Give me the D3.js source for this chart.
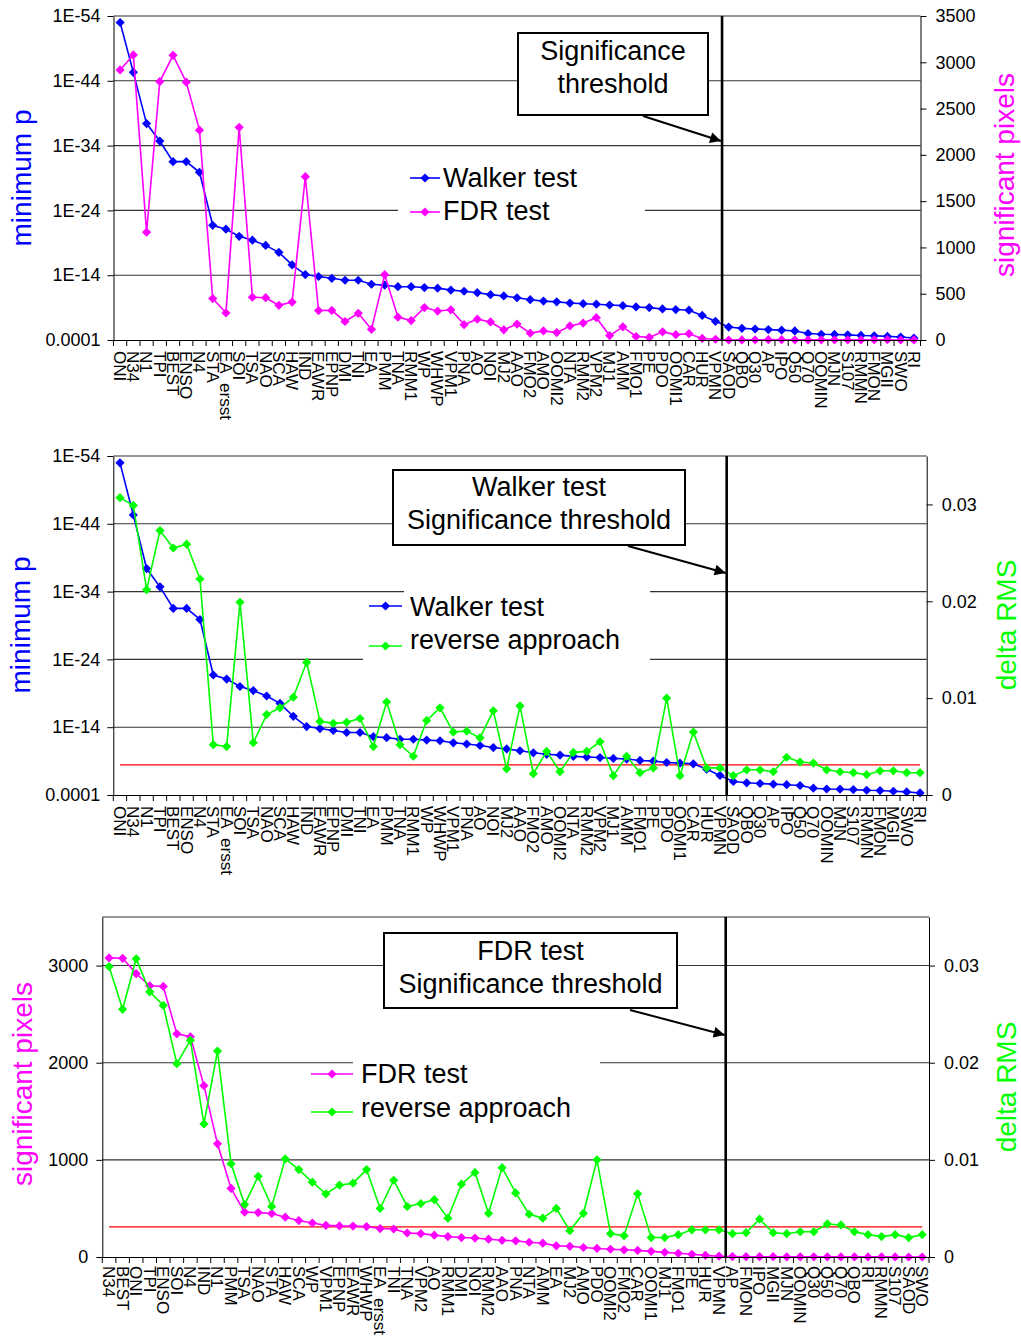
<!DOCTYPE html>
<html><head><meta charset="utf-8">
<script src="https://cdn.jsdelivr.net/npm/d3@7"></script>
<style>
body{margin:0;background:#fff}
svg{display:block}
text{font-family:"Liberation Sans",Arial,Helvetica,sans-serif}
</style>
</head><body>
<svg id="c" width="1021" height="1338"></svg>
<script>
// ---------------- DATA ----------------
const categories = ["ONI","N34","N1","TPI","BEST","ENSO","N4","STA","EA ersst","SOI","TSA","NAO","SCA","HAW","IND","EAWR","EPNP","DMI","TNI","EA","PMM","TNA","RMM1","WP","WHWP","VPM1","PNA","AO","NOI","MJ2","AAO","FMO2","AMO","OOMI2","NTA","RMM2","VPM2","MJ1","AMM","FMO1","PE","PDO","OOMI1","CAR","HUR","VPMN","SAOD","QBO","Q30","AP","IPO","Q50","Q70","OOMIN","MJN","S107","RMMN","FMON","MGII","SWO","RI"];

// Walker test: minimum p (aligned with categories)
const walkerMinP = [1e-53,5e-46,4e-38,2e-35,3e-32,3e-32,1.3e-30,2e-22,8e-22,1e-20,4e-20,2.5e-19,3e-18,2.5e-16,8e-15,1.6e-14,3e-14,6e-14,6e-14,2.5e-13,3.5e-13,6e-13,6e-13,8e-13,1e-12,2e-12,3e-12,5e-12,1e-11,1.6e-11,3e-11,6e-11,1e-10,1.3e-10,2e-10,2.5e-10,3e-10,4e-10,5e-10,8e-10,1e-9,1.6e-9,2e-9,2.5e-9,1.6e-8,1.3e-7,1e-6,1.6e-6,2e-6,2.5e-6,3e-6,4e-6,1e-5,1.3e-5,1.4e-5,1.6e-5,2e-5,2.2e-5,2.8e-5,3.5e-5,5e-5];

// FDR test: significant pixels (aligned with categories)
const fdrPixels = [2917,3079,1165,2792,3075,2785,2267,448,293,2297,462,457,375,410,1764,318,320,200,288,115,706,247,210,350,313,326,166,225,195,110,172,74,98,80,152,183,241,48,142,38,28,88,58,68,17,8,0,1,2,4,3,2,1,2,2,1,1,3,3,0,1];

// reverse approach: delta RMS (aligned with categories)
const deltaRMS = [0.0307,0.0299,0.0212,0.0273,0.0255,0.0259,0.0223,0.0052,0.0050,0.0199,0.0054,0.0083,0.0090,0.0101,0.0137,0.0076,0.0074,0.0075,0.0079,0.0050,0.0096,0.0052,0.0040,0.0077,0.0090,0.0065,0.0066,0.0059,0.0087,0.0027,0.0092,0.0022,0.0045,0.0024,0.0044,0.0045,0.0055,0.0020,0.0040,0.0023,0.0028,0.0100,0.0020,0.0065,0.0028,0.0028,0.0020,0.0026,0.0026,0.0024,0.0039,0.0034,0.0033,0.0026,0.0024,0.0023,0.0021,0.0025,0.0025,0.0023,0.0023];

// order of the third chart (sorted by FDR significant pixels)
const fdrRankOrder = ["N34","BEST","ONI","TPI","ENSO","SOI","N4","IND","N1","PMM","TSA","NAO","STA","HAW","SCA","WP","VPM1","EPNP","EAWR","WHWP","EA ersst","TNI","TNA","VPM2","AO","RMM1","DMI","NOI","RMM2","AAO","PNA","NTA","AMM","EA","MJ2","AMO","PDO","OOMI2","FMO2","CAR","OOMI1","MJ1","FMO1","PE","HUR","VPMN","AP","FMON","IPO","MGII","MJN","OOMIN","Q30","Q50","Q70","QBO","RI","RMMN","S107","SAOD","SWO"];

const pTicks = [1e-4,1e-14,1e-24,1e-34,1e-44,1e-54];
const pTickLabels = ["0.0001","1E-14","1E-24","1E-34","1E-44","1E-54"];
const pixelTicksTop = [0,500,1000,1500,2000,2500,3000,3500];
const pixelTicksBottom = [0,1000,2000,3000];
const rmsTicks = [0,0.01,0.02,0.03];
const rmsThreshold = 0.0031;
const thresholdAfter = "VPMN";

// ---------------- DRAW ----------------
const svg = d3.select("#c");
const walkerMap = new Map(categories.map((c,i)=>[c,walkerMinP[i]]));
const fdrMap = new Map(categories.map((c,i)=>[c,fdrPixels[i]]));
const rmsMap = new Map(categories.map((c,i)=>[c,deltaRMS[i]]));

const defs = svg.append("defs");
defs.append("marker").attr("id","ah").attr("viewBox","0 0 10 10")
  .attr("refX",10).attr("refY",5).attr("markerWidth",15).attr("markerHeight",11)
  .attr("markerUnits","userSpaceOnUse").attr("orient","auto")
  .append("path").attr("d","M0,0L10,5L0,10Z").attr("fill","#000");

const diamond = r => `M0,${-r}L${r},0L0,${r}L${-r},0Z`;
const BLUE="#0000ff", MAG="#ff00ff", GREEN="#00ff00";

function drawPanel(p){
  const g = svg.append("g");
  const x = d3.scaleBand().domain(p.cats).range([p.x0,p.x1]);
  const bw = x.bandwidth();
  const cx = c => x(c)+bw/2;

  g.selectAll(null).data(p.grid).join("line")
    .attr("x1",p.x0).attr("x2",p.x1)
    .attr("y1",d=>p.yL(d)).attr("y2",d=>p.yL(d))
    .attr("stroke","#333").attr("stroke-width",1.1);

  p.legendBg.forEach(r=>g.append("rect").attr("x",r[0]).attr("y",r[1]).attr("width",r[2]).attr("height",r[3]).attr("fill","#fff"));

  if(p.redLine!=null){
    g.append("line").attr("x1",cx(p.cats[0])).attr("x2",cx(p.cats[p.cats.length-1]))
      .attr("y1",p.yR(p.redLine)).attr("y2",p.yR(p.redLine))
      .attr("stroke","#ff0000").attr("stroke-width",1.3);
  }

  p.series.forEach(s=>{
    const sc = s.axis==="L"?p.yL:p.yR;
    const line = d3.line().x(c=>cx(c)).y(c=>sc(s.map.get(c)));
    g.append("path").attr("d",line(p.cats)).attr("fill","none")
      .attr("stroke",s.color).attr("stroke-width",1.6);
    g.selectAll(null).data(p.cats).join("path")
      .attr("transform",c=>`translate(${cx(c)},${sc(s.map.get(c))})`)
      .attr("d",diamond(4.6)).attr("fill",s.color);
  });

  const la = g.append("g").attr("transform",`translate(${p.x0},0)`)
    .call(d3.axisLeft(p.yL).tickValues(p.lTicks).tickFormat((d,i)=>p.lLabels[i]).tickSize(6).tickSizeOuter(0).tickPadding(p.lPad));
  const ra = g.append("g").attr("transform",`translate(${p.x1},0)`)
    .call(d3.axisRight(p.yR).tickValues(p.rTicks).tickFormat(p.rFormat).tickSize(6).tickSizeOuter(0).tickPadding(9));
  const ba = g.append("g").attr("transform",`translate(0,${p.y1})`)
    .call(d3.axisBottom(x).tickSize(0).tickSizeOuter(0).tickFormat(d=>d.replace(" ","\u00a0\u00a0")));
  [la,ra].forEach(a=>{
    a.selectAll("text").attr("font-size",18).attr("fill","#000").style("font-family",'"Liberation Sans",Arial,sans-serif');
    a.selectAll("line,path").attr("stroke","#000");
  });
  ba.select(".domain").attr("stroke","#000");
  ba.selectAll("text").attr("font-size",17).attr("fill","#000")
    .style("font-family",'"Liberation Sans",Arial,sans-serif')
    .attr("transform","rotate(90)").attr("text-anchor","start")
    .attr("x",p.labelOff).attr("y",0).attr("dy","0.36em");
  const bounds = p.cats.map(c=>x(c)).concat([x(p.cats[p.cats.length-1])+bw]);
  g.selectAll(null).data(bounds).join("line")
    .attr("x1",d=>d).attr("x2",d=>d).attr("y1",p.y1).attr("y2",p.y1+6)
    .attr("stroke","#000");

  g.append("text").attr("transform",`translate(${p.lTitleX},${p.lTitleY}) rotate(-90)`)
    .attr("text-anchor","middle").attr("dy","0.35em").attr("font-size",28)
    .attr("fill",p.lTitleColor).text(p.lTitle);
  g.append("text").attr("transform",`translate(${p.rTitleX},${p.rTitleY}) rotate(-90)`)
    .attr("text-anchor","middle").attr("dy","0.35em").attr("font-size",28)
    .attr("fill",p.rTitleColor).text(p.rTitle);

  p.series.forEach((s,i)=>{
    const ly = p.legendY[i];
    g.append("line").attr("x1",p.legendX[0]).attr("x2",p.legendX[1]).attr("y1",ly).attr("y2",ly)
      .attr("stroke",s.color).attr("stroke-width",1.6);
    g.append("path").attr("transform",`translate(${(p.legendX[0]+p.legendX[1])/2},${ly})`)
      .attr("d",diamond(4.6)).attr("fill",s.color);
    g.append("text").attr("x",p.legendX[2]).attr("y",p.legendTextY[i]).attr("dy","0.35em").attr("font-size",27)
      .attr("fill","#000").text(s.name);
  });

  const vx = x(thresholdAfter)+bw;
  g.append("line").attr("x1",vx).attr("x2",vx).attr("y1",p.y0).attr("y2",p.y1)
    .attr("stroke","#000").attr("stroke-width",2.6);

  const a = p.note;
  g.append("rect").attr("x",a.x).attr("y",a.y).attr("width",a.w).attr("height",a.h)
    .attr("fill","#fff").attr("stroke","#000").attr("stroke-width",2);
  a.lines.forEach((t,i)=>{
    g.append("text").attr("x",a.x+a.w/2).attr("y",a.ly[i]).attr("text-anchor","middle")
      .attr("dy","0.35em").attr("font-size",27).attr("fill","#000").text(t);
  });
  g.append("line").attr("x1",a.arrow[0]).attr("y1",a.arrow[1]).attr("x2",vx-1).attr("y2",a.arrow[2])
    .attr("stroke","#000").attr("stroke-width",2).attr("marker-end","url(#ah)");
}

// Panel 1
(function(){
  const y0=16,y1=340;
  const yL=d3.scaleLog().domain([1e-4,1e-54]).range([y1,y0]);
  const yR=d3.scaleLinear().domain([0,3500]).range([y1,y0]);
  drawPanel({x0:113.5,x1:920.5,y0,y1,cats:categories,yL,yR,
    grid:[1e-14,1e-24,1e-34,1e-44,1e-54],
    lTicks:pTicks,lLabels:pTickLabels,lPad:7,
    rTicks:pixelTicksTop,rFormat:d3.format("d"),
    series:[{name:"Walker test",map:walkerMap,axis:"L",color:BLUE},{name:"FDR test",map:fdrMap,axis:"R",color:MAG}],
    redLine:null,
    legendBg:[[398,158,247,70]],legendX:[410,440,443],legendY:[178,212],legendTextY:[178,211],
    labelOff:11,
    lTitle:"minimum p",lTitleColor:BLUE,lTitleX:21,lTitleY:178,
    rTitle:"significant pixels",rTitleColor:MAG,rTitleX:1004,rTitleY:175,
    note:{x:518,y:33,w:190,h:82,lines:["Significance","threshold"],ly:[51,84],arrow:[643,116,141]}
  });
})();

// Panel 2
(function(){
  const y0=456,y1=795;
  const yL=d3.scaleLog().domain([1e-4,1e-54]).range([y1,y0]);
  const yR=d3.scaleLinear().domain([0,0.035]).range([y1,y0]);
  drawPanel({x0:113.3,x1:926.7,y0,y1,cats:categories,yL,yR,
    grid:[1e-14,1e-24,1e-34,1e-44,1e-54],
    lTicks:pTicks,lLabels:pTickLabels,lPad:7,
    rTicks:rmsTicks,rFormat:d=>d===0?"0":d3.format(".2f")(d),
    series:[{name:"Walker test",map:walkerMap,axis:"L",color:BLUE},{name:"reverse approach",map:rmsMap,axis:"R",color:GREEN}],
    redLine:rmsThreshold,
    legendBg:[[404,586,246,40],[363,626,287,40]],legendX:[369,402,410],legendY:[606,646],legendTextY:[607,640],
    labelOff:11,
    lTitle:"minimum p",lTitleColor:BLUE,lTitleX:20,lTitleY:625,
    rTitle:"delta RMS",rTitleColor:GREEN,rTitleX:1006,rTitleY:625,
    note:{x:393,y:470,w:292,h:75,lines:["Walker test","Significance threshold"],ly:[487,520],arrow:[628,546,573]}
  });
})();

// Panel 3
(function(){
  const y0=917,y1=1257;
  const yL=d3.scaleLinear().domain([0,3500]).range([y1,y0]);
  const yR=d3.scaleLinear().domain([0,0.035]).range([y1,y0]);
  drawPanel({x0:102.3,x1:929,y0,y1,cats:fdrRankOrder,yL,yR,
    grid:[1000,2000,3000,3500],
    lTicks:pixelTicksBottom,lLabels:pixelTicksBottom.map(String),lPad:8,
    rTicks:rmsTicks,rFormat:d=>d===0?"0":d3.format(".2f")(d),
    series:[{name:"FDR test",map:fdrMap,axis:"L",color:MAG},{name:"reverse approach",map:rmsMap,axis:"R",color:GREEN}],
    redLine:rmsThreshold,
    legendBg:[[353,1050,247,80]],legendX:[311,353,361],legendY:[1074,1112],legendTextY:[1074,1108],
    labelOff:9,
    lTitle:"significant pixels",lTitleColor:MAG,lTitleX:22,lTitleY:1084,
    rTitle:"delta RMS",rTitleColor:GREEN,rTitleX:1006,rTitleY:1087,
    note:{x:384,y:933,w:293,h:75,lines:["FDR test","Significance threshold"],ly:[951,984],arrow:[630,1010,1035]}
  });
})();
</script>
</body></html>
